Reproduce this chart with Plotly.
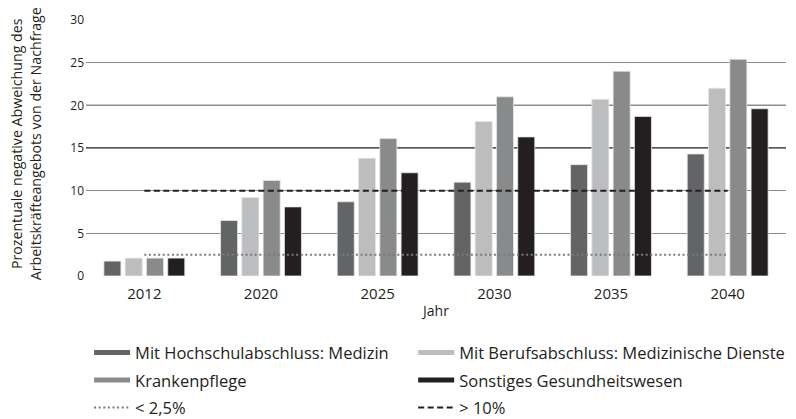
import plotly.graph_objects as go

years = ["2012", "2020", "2025", "2030", "2035", "2040"]
medizin = [1.75, 6.5, 8.7, 11.0, 13.05, 14.3]
berufs = [2.1, 9.2, 13.8, 18.1, 20.7, 22.0]
kranken = [2.1, 11.2, 16.1, 21.0, 24.0, 25.4]
sonstiges = [2.1, 8.1, 12.1, 16.3, 18.7, 19.6]
series_names = [
    "Mit Hochschulabschluss: Medizin",
    "Mit Berufsabschluss: Medizinische Dienste",
    "Krankenpflege",
    "Sonstiges Gesundheitswesen",
]
series_colors = ["#636466", "#bcbdbf", "#898a8c", "#231f20"]
series_legend = ["legend", "legend2", "legend", "legend2"]
threshold_low = 2.5
threshold_high = 10
threshold_names = ["< 2,5%", "> 10%"]
dark_grid_values = [15, 20]
y_title_lines = ["Prozentuale negative Abweichung des", "Arbeitskräfteangebots von der Nachfrage"]

FONT = "Open Sans"
TXT = "#231f20"

fig = go.Figure()

for vals, name, col in zip([medizin, berufs, kranken, sonstiges], series_names, series_colors):
    fig.add_trace(go.Bar(
        x=years, y=vals, name=name, showlegend=False,
        marker=dict(color=col, line=dict(color="#e6e6e6", width=0.8)),
    ))

for i, (name, col, lg) in enumerate(zip(series_names, series_colors, series_legend)):
    fig.add_trace(go.Scatter(
        x=[None], y=[None], mode="lines", name=name, legend=lg, legendgroup=f"g{i}",
        line=dict(color=col, width=5),
    ))

fig.add_trace(go.Scatter(
    x=[years[0], years[-1]], y=[threshold_low, threshold_low], mode="lines",
    name=threshold_names[0], legend="legend", legendgroup="t0",
    line=dict(color="#7a7a7c", width=2, dash="2px,2.6px"),
))
fig.add_trace(go.Scatter(
    x=[years[0], years[-1]], y=[threshold_high, threshold_high], mode="lines",
    name=threshold_names[1], legend="legend2", legendgroup="t1",
    line=dict(color="#231f20", width=2, dash="6px,3.5px"),
))

for v in dark_grid_values:
    fig.add_shape(type="line", xref="paper", yref="y", x0=0, x1=1, y0=v, y1=v,
                  line=dict(color="#231f20", width=1.3), layer="below")

for line_text, xpos in zip(y_title_lines, [-0.099, -0.073]):
    fig.add_annotation(
        text=line_text, textangle=-90, xref="paper", yref="paper",
        x=xpos, y=0.518, xanchor="center", yanchor="middle", showarrow=False,
        font=dict(size=14.2, color=TXT, family=FONT),
    )

legend_common = dict(
    orientation="v", yanchor="top", y=-0.232, xanchor="left",
    font=dict(size=16.5, color=TXT), itemwidth=36, tracegroupgap=3,
    bgcolor="rgba(0,0,0,0)",
)

fig.update_layout(
    width=788, height=411,
    margin=dict(l=78, r=10, t=12, b=143, autoexpand=False),
    paper_bgcolor="white", plot_bgcolor="white",
    font=dict(family=FONT, color=TXT),
    barmode="group", bargap=0.27, bargroupgap=0.2,
    xaxis=dict(
        type="category", showgrid=False, ticks="", tickfont=dict(size=15, color=TXT),
        ticklabelstandoff=7,
        title=dict(text="Jahr", font=dict(size=14, color=TXT), standoff=4),
        showline=False, zeroline=False,
    ),
    yaxis=dict(
        range=[0, 30], tickvals=[0, 5, 10, 15, 20, 25, 30],
        showgrid=True, gridcolor="#8c8c8c", gridwidth=1.3,
        ticks="", ticklen=0, ticklabelstandoff=1,
        tickfont=dict(size=12, color=TXT), zeroline=False, showline=False,
    ),
    legend=dict(x=0.0044, **legend_common),
    legend2=dict(x=0.4674, **legend_common),
)

fig.write_html("out.html")
